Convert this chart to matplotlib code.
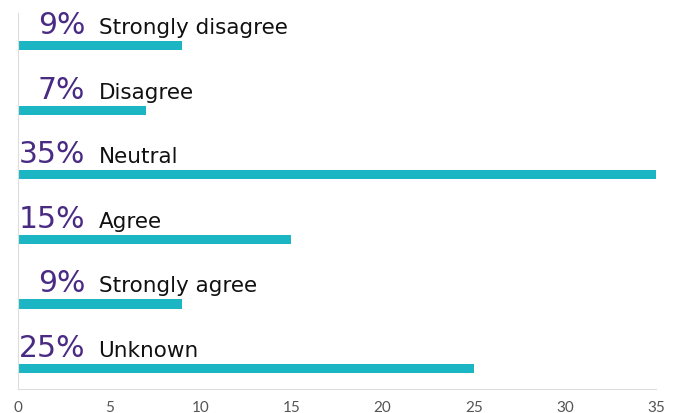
import matplotlib.pyplot as plt

categories = ["Strongly disagree", "Disagree", "Neutral", "Agree", "Strongly agree", "Unknown"]
values = [9, 7, 35, 15, 9, 25]
pct_labels = ["9%", "7%", "35%", "15%", "9%", "25%"]
xticks = [0, 5, 10, 15, 20, 25, 30, 35]

teal = "#1bb5c3"
purple = "#4a2b84"

fig = plt.figure(figsize=(6.78, 4.14), dpi=100)
ax = fig.add_axes([18/678, 1 - 390/414, 638/678, (390 - 13.5)/414])

ypos = list(range(len(categories)))
ax.barh(ypos, values, height=0.14, color=teal)
ax.set_xlim(0, 35)
ax.set_ylim(5.318, -0.519)

for y, lab, cat in zip(ypos, pct_labels, categories):
    ax.annotate(lab, xy=(0, y), xytext=(48.5, 9.2), textcoords="offset points",
                ha="right", va="baseline", fontsize=21.5, color=purple,
                family="DejaVu Sans")
    ax.annotate(cat, xy=(0, y), xytext=(58, 9.2), textcoords="offset points",
                ha="left", va="baseline", fontsize=15.5, color="#111111",
                family="DejaVu Sans")

ax.set_xticks(xticks)
ax.set_xticklabels([str(t) for t in xticks], fontsize=11, color="#555555", family="Lato")
ax.tick_params(axis="x", length=0, pad=8)
ax.set_yticks([])
for s in ["top", "right"]:
    ax.spines[s].set_visible(False)
ax.spines["left"].set_color("#dddddd")
ax.spines["bottom"].set_color("#dddddd")

fig.savefig("out.png", dpi=100)
